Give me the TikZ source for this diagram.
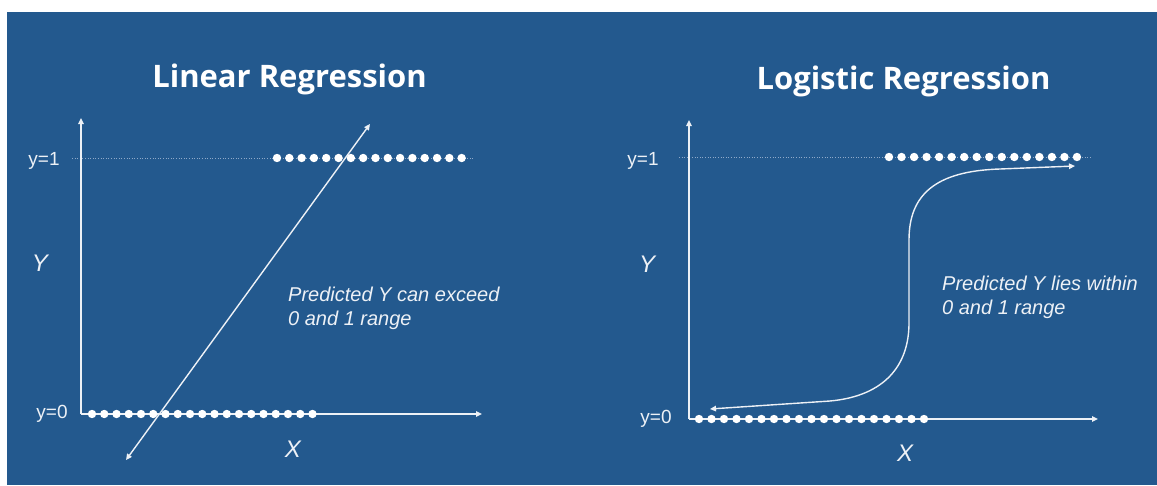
\documentclass[tikz,border=0pt]{standalone}
\usepackage{fontspec}
\setmainfont{Liberation Sans}
\newfontfamily\titlefont{Open Sans}
\usetikzlibrary{arrows.meta}
\definecolor{bg}{HTML}{23598E}
\definecolor{fg}{HTML}{EDF1F6}
\definecolor{guide}{HTML}{8FA9C9}
\begin{document}
\begin{tikzpicture}[x=1pt,y=-1pt,
  axis/.style={draw=fg, line width=1.5pt, -{Triangle[length=6pt,width=5.5pt]}},
  twoway/.style={draw=fg, line width=1.4pt, {Triangle[length=6pt,width=5.5pt]}-{Triangle[length=6pt,width=5.5pt]}},
  guideline/.style={draw=guide, line width=0.9pt, dash pattern=on 1pt off 1.6pt},
  dot/.style={fill=white},
  title/.style={text=white, font=\titlefont\bfseries\fontsize{31}{36}\selectfont, anchor=base, inner sep=0},
  lab/.style={text=fg, font=\fontsize{19}{23}\selectfont, anchor=base, inner sep=0},
  axlab/.style={text=fg, font=\itshape\fontsize{24}{28}\selectfont, anchor=base, inner sep=0},
  note/.style={text=fg, font=\itshape\fontsize{20}{24}\selectfont, align=left, anchor=north west, inner sep=0}
]
\useasboundingbox (0,0) rectangle (1157,485);
\fill[white] (0,0) rectangle (1157,485);
\fill[bg] (7,12) rectangle (1157,485);

% ---------- Linear regression ----------
\node[title] (t1) at (289.5,87) {Linear Regression};
\coordinate (o1) at (81,414);
\coordinate (ytop1) at (81,118);
\coordinate (xend1) at (482,414);
\coordinate (g1a) at (72,158);
\coordinate (g1b) at (475,158);
\draw[guideline] (g1a) -- (g1b);
\draw[axis] (o1) -- (ytop1);
\draw[axis] (o1) -- (xend1);
\foreach \i in {0,...,15} \fill[dot] (277+12.31*\i,158) circle (4.2);
\foreach \i in {0,...,18} \fill[dot] (92+12.25*\i,414) circle (4.2);
\coordinate (d1a) at (126,460);
\coordinate (d1b) at (370,124);
\draw[twoway] (d1a) -- (d1b);
\node[lab] (y11) at (44,165) {y=1};
\node[lab] (y01) at (52,418) {y=0};
\node[axlab] (Y1) at (40,271) {Y};
\node[axlab] (X1) at (293,457) {X};
\node[note] (n1) at (288,287) {Predicted Y can exceed\\0 and 1 range};

% ---------- Logistic regression ----------
\node[title] (t2) at (903.5,89) {Logistic Regression};
\coordinate (o2) at (689,419);
\coordinate (ytop2) at (689,120);
\coordinate (xend2) at (1098,419);
\coordinate (g2a) at (679,157);
\coordinate (g2b) at (1090,157);
\draw[guideline] (g2a) -- (g2b);
\draw[axis] (o2) -- (ytop2);
\draw[axis] (o2) -- (xend2);
\foreach \i in {0,...,15} \fill[dot] (889+12.53*\i,157) circle (4.2);
\foreach \i in {0,...,18} \fill[dot] (699+12.5*\i,419) circle (4.2);
\coordinate (s0) at (710,409);
\coordinate (s1) at (1075,166);
\draw[twoway] (s0) -- (830,401) .. controls (885,396) and (909,365) .. (909,323)
  -- (909,240) .. controls (909,195) and (935,171) .. (1000,169) -- (s1);
\node[lab] (y12) at (643,165) {y=1};
\node[lab] (y02) at (656,423) {y=0};
\node[axlab] (Y2) at (647,272) {Y};
\node[axlab] (X2) at (905,461) {X};
\node[note] (n2) at (942,276) {Predicted Y lies within\\0 and 1 range};
\end{tikzpicture}
\end{document}
